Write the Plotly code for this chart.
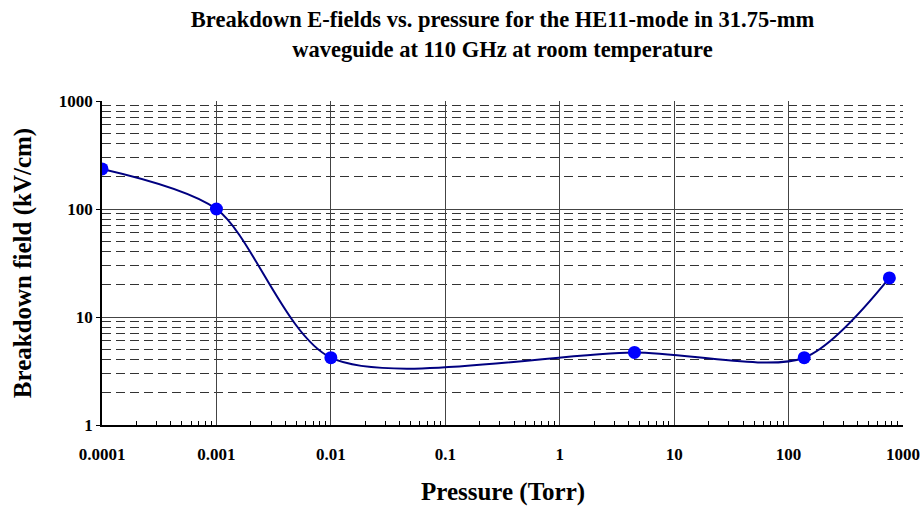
import plotly.graph_objects as go

pressure_torr = [0.0001, 0.001, 0.01, 4.5, 137, 760]
breakdown_kv_cm = [235, 100, 4.2, 4.7, 4.2, 23]

x_ticks = [0.0001, 0.001, 0.01, 0.1, 1, 10, 100, 1000]
x_tick_labels = ["0.0001", "0.001", "0.01", "0.1", "1", "10", "100", "1000"]
y_ticks = [1, 10, 100, 1000]
y_tick_labels = ["1", "10", "100", "1000"]

FONT = "Liberation Serif, Times New Roman, serif"

fig = go.Figure()
fig.add_trace(go.Scatter(
    x=pressure_torr, y=breakdown_kv_cm,
    mode="lines+markers",
    line=dict(color="#000080", width=2, shape="spline", smoothing=0.8),
    marker=dict(color="#0000FF", size=13, line=dict(width=0)),
    showlegend=False,
))

fig.update_layout(
    width=922, height=507,
    paper_bgcolor="white", plot_bgcolor="white",
    margin=dict(l=102, r=19, t=101, b=82, autoexpand=False),
    font=dict(family=FONT, color="black"),
    title=dict(
        text="<b>Breakdown E-fields vs. pressure for the HE11-mode in 31.75-mm<br>waveguide at 110 GHz at room temperature</b>",
        x=0.5, xanchor="center", xref="paper", y=0.946, yanchor="middle",
        font=dict(size=22.5, family=FONT, color="black"),
    ),
    annotations=[dict(
        text="<b>Pressure (Torr)</b>", showarrow=False,
        xref="paper", yref="paper", x=0.5, y=-67 / 324, xanchor="center", yanchor="middle",
        font=dict(size=25, family=FONT, color="black"),
    )],
)

fig.update_xaxes(
    type="log", range=[-4, 3], automargin=False,
    tickvals=x_ticks, ticktext=["<b>%s</b>" % t for t in x_tick_labels],
    tickfont=dict(size=17, family=FONT, color="black"),
    ticklabelstandoff=13,
    showline=True, linecolor="black", linewidth=1.5,
    ticks="inside", ticklen=0, tickcolor="black",
    showgrid=True, gridcolor="#444444", gridwidth=1,
    zeroline=False,
    minor=dict(ticks="inside", ticklen=4, tickcolor="black", showgrid=False,
               tickvals=[m * 10 ** e for e in range(-4, 3) for m in range(2, 10)]),
)

fig.update_yaxes(
    type="log", range=[0, 3], automargin=False,
    tickvals=y_ticks, ticktext=["<b>%s</b>" % t for t in y_tick_labels],
    tickfont=dict(size=17, family=FONT, color="black"),
    showline=True, linecolor="black", linewidth=1.5,
    ticks="outside", ticklen=4, tickcolor="black",
    showgrid=True, gridcolor="#444444", gridwidth=1,
    zeroline=False,
    minor=dict(showgrid=True, griddash="9px,5px", gridcolor="#333333", gridwidth=1, ticks="",
               tickvals=[m * 10 ** e for e in range(0, 3) for m in range(2, 10)]),
    title=dict(text="<b>Breakdown field (kV/cm)</b>", font=dict(size=25, family=FONT, color="black"), standoff=20),
)

fig.write_html("out.html")
